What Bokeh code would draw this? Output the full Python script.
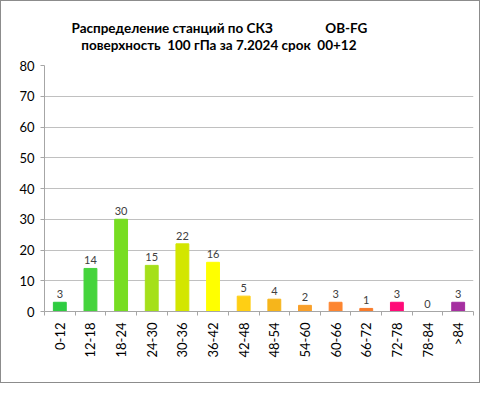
from bokeh.plotting import figure
from bokeh.models import ColumnDataSource, Range1d, FixedTicker
from bokeh.core.properties import value
from bokeh.embed import file_html
from bokeh.resources import INLINE
import numpy as np
import math

categories = ["0-12", "12-18", "18-24", "24-30", "30-36", "36-42", "42-48",
              "48-54", "54-60", "60-66", "66-72", "72-78", "78-84", ">84"]
counts = [3, 14, 30, 15, 22, 16, 5, 4, 2, 3, 1, 3, 0, 3]
colors = ["#2ecc40", "#45d43c", "#77dd22", "#a5e01a", "#d3e600", "#ffff00", "#ffcf14",
          "#f6b51b", "#f9a02a", "#fd8530", "#f87b2a", "#ff0a78", "#aaaaaa", "#a52fa0"]
title_line1 = "Распределение станций по СКЗ" + "\u00a0" * 16 + "OB-FG"
title_line2 = "\u00a0" * 3 + "поверхность\u00a0 100 гПа за 7.2024 срок\u00a0 00+12"
y_ticks = [0, 10, 20, 30, 40, 50, 60, 70, 80]

FONT = "Lato"
n = len(categories)
xs = np.arange(n) + 0.5
labels = [str(v) for v in counts]
src = ColumnDataSource(dict(x=xs, top=counts, color=colors, label=labels))

p = figure(width=480, height=383, output_backend="svg", toolbar_location=None,
           x_range=Range1d(0, n), y_range=Range1d(0, 80),
           min_border_left=43, min_border_right=8, min_border_top=64, min_border_bottom=73)
p.styles = {"border": "1px solid #8c8c8c"}
p.outline_line_color = None
p.background_fill_color = "white"

p.title.text = title_line1 + "\n" + title_line2
p.title.align = "left"
p.title.offset = 27
p.title.text_font = FONT
p.title.text_font_size = "13.5px"
p.title.text_font_style = "bold"
p.title.text_color = "#000000"
p.title.text_line_height = 1.1
p.title.standoff = 24

p.vbar(x="x", top="top", width=0.42, color="color", source=src)
p.text(x="x", y="top", text="label", source=src, text_align="center", text_baseline="alphabetic",
       y_offset=-8, text_font=value(FONT), text_font_size="11px", text_color="#404040")

# axes
p.xaxis.ticker = FixedTicker(ticks=list(xs), minor_ticks=list(range(n + 1)))
p.xaxis.major_label_overrides = {float(x): c for x, c in zip(xs, categories)}
p.xaxis.major_label_orientation = math.pi / 2
p.xaxis.major_tick_line_color = None
p.xaxis.major_tick_out = 0
p.xaxis.major_tick_in = 0
p.xaxis.minor_tick_out = 4
p.xaxis.minor_tick_in = 0
p.xaxis.minor_tick_line_color = "#a6a6a6"
p.xaxis.axis_line_color = "#a6a6a6"
p.xaxis.major_label_text_font = FONT
p.xaxis.major_label_text_font_size = "13px"
p.xaxis.major_label_text_color = "#000000"
p.xaxis.major_label_standoff = 7

p.yaxis.ticker = FixedTicker(ticks=y_ticks, minor_ticks=[])
p.yaxis.axis_line_color = "#a6a6a6"
p.yaxis.major_tick_line_color = "#a6a6a6"
p.yaxis.major_tick_out = 4
p.yaxis.major_tick_in = 0
p.yaxis.minor_tick_line_color = None
p.yaxis.major_label_text_font = FONT
p.yaxis.major_label_text_font_size = "13px"
p.yaxis.major_label_text_color = "#000000"
p.yaxis.major_label_standoff = 6

p.xgrid.grid_line_color = None
p.ygrid.grid_line_color = "#c0c0c0"
p.ygrid.ticker = FixedTicker(ticks=y_ticks)

open("out.html", "w").write(file_html(p, INLINE))
